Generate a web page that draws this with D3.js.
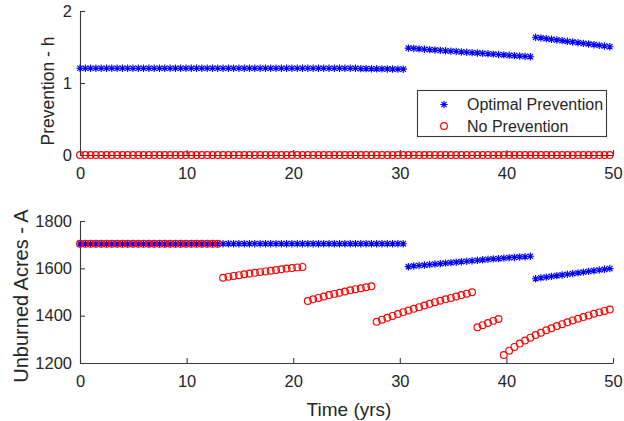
<!DOCTYPE html>
<html><head><meta charset="utf-8">
<script src="https://cdn.jsdelivr.net/npm/d3@7"></script>
<style>
body{margin:0;background:#fff}
text{font-family:"Liberation Sans",Arial,Helvetica,sans-serif;fill:#262626}
</style>
</head><body>
<svg id="c" width="624" height="421"></svg>
<script>
// time (yrs)
const time = [
 0.00,0.50,0.99,1.49,1.99,2.49,2.98,3.48,3.98,4.47,
 4.97,5.47,5.96,6.46,6.96,7.46,7.95,8.45,8.95,9.44,
 9.94,10.44,10.93,11.43,11.93,12.43,12.92,13.42,13.92,14.41,
 14.91,15.41,15.90,16.40,16.90,17.40,17.89,18.39,18.89,19.38,
 19.88,20.38,20.87,21.37,21.87,22.37,22.86,23.36,23.86,24.35,
 24.85,25.35,25.84,26.34,26.84,27.34,27.83,28.33,28.83,29.32,
 29.82,30.32,30.81,31.31,31.81,32.31,32.80,33.30,33.80,34.29,
 34.79,35.29,35.78,36.28,36.78,37.28,37.77,38.27,38.77,39.26,
 39.76,40.26,40.75,41.25,41.75,42.25,42.74,43.24,43.74,44.23,
 44.73,45.23,45.72,46.22,46.72,47.22,47.71,48.21,48.71,49.20,
 49.70];

// Prevention - h, optimal prevention
const optimalH = [
 1.205,1.205,1.205,1.205,1.205,1.205,1.205,1.205,1.205,1.205,
 1.205,1.205,1.205,1.205,1.205,1.205,1.205,1.205,1.205,1.205,
 1.205,1.205,1.205,1.205,1.205,1.205,1.205,1.205,1.205,1.205,
 1.205,1.205,1.205,1.205,1.205,1.205,1.205,1.205,1.205,1.205,
 1.205,1.205,1.205,1.205,1.205,1.205,1.205,1.205,1.205,1.205,
 1.205,1.205,1.205,
 1.200,1.199,1.198,1.197,1.196,1.195,1.194,1.193,1.192,
 1.485,1.480,1.474,1.469,1.464,1.459,1.453,1.448,1.443,1.438,
 1.432,1.427,1.422,1.417,1.411,1.406,1.401,1.396,1.390,1.385,
 1.380,1.375,1.370,1.365,
 1.635,1.626,1.616,1.607,1.598,1.588,1.579,1.570,1.560,1.551,
 1.542,1.532,1.523,1.514,1.504];

// Prevention - h, no prevention
const noPrevH = [
 0,0,0,0,0,0,0,0,0,0, 0,0,0,0,0,0,0,0,0,0,
 0,0,0,0,0,0,0,0,0,0, 0,0,0,0,0,0,0,0,0,0,
 0,0,0,0,0,0,0,0,0,0, 0,0,0,0,0,0,0,0,0,0,
 0,0,0,0,0,0,0,0,0,0, 0,0,0,0,0,0,0,0,0,0,
 0,0,0,0,0,0,0,0,0,0, 0,0,0,0,0,0,0,0,0,0,
 0];

// Unburned Acres - A, optimal prevention
const optimalA = [
 1704,1704,1704,1704,1704,1704,1704,1704,1704,1704,
 1704,1704,1704,1704,1704,1704,1704,1704,1704,1704,
 1704,1704,1704,1704,1704,1704,1704,1704,1704,1704,
 1704,1704,1704,1704,1704,1704,1704,1704,1704,1704,
 1704,1704,1704,1704,1704,1704,1704,1704,1704,1704,
 1704,1704,1704,1704,1704,1704,1704,1704,1704,1704,
 1704,1704,
 1607,1610,1612,1614,1616,1618,1620,1622,1624,1626,
 1628,1630,1632,1634,1636,1638,1640,1641,1643,1645,
 1646,1648,1649,1651,
 1556,1560,1563,1566,1569,1572,1575,1578,1581,1584,
 1587,1590,1593,1596,1599];

// Unburned Acres - A, no prevention
const noPrevA = [
 1704,1704,1704,1704,1704,1704,1704,1704,1704,1704,
 1704,1704,1704,1704,1704,1704,1704,1704,1704,1704,
 1704,1704,1704,1704,1704,1704,1704,
 1560,1564,1568,1571,1575,1578,1581,1584,1587,1590,
 1593,1596,1599,1601,1604,1606,
 1462,1469,1475,1481,1487,1492,1497,1502,1507,1512,
 1516,1520,1524,
 1374,1383,1391,1399,1407,1415,1422,1429,1436,1443,
 1450,1457,1463,1469,1475,1481,1487,1493,1499,
 1351,1360,1369,1378,1386,
 1234,1252,1268,1282,1295,1307,1318,1328,1338,1347,
 1356,1364,1372,1380,1387,1394,1401,1408,1414,1420,
 1426];

const seriesNames = ["Optimal Prevention", "No Prevention"];
const xTicks = [0,10,20,30,40,50];
const hTicks = [0,1,2];
const aTicks = [1200,1400,1600,1800];

const svg = d3.select("#c");
svg.append("rect").attr("width",624).attr("height",421).attr("fill","#fff");

const x = d3.scaleLinear().domain([0,50]).range([80,613]);
const yH = d3.scaleLinear().domain([0,2]).range([155,11]);
const yA = d3.scaleLinear().domain([1200,1800]).range([363,221]);

const axisColor = "#3a3a3a";
function styleAxis(g, fs){
  g.selectAll("path,line").attr("stroke",axisColor).attr("stroke-width",1.1);
  g.selectAll("text").attr("fill","#262626").style("font-size",fs+"px")
   .style("font-family",'"Liberation Sans",Arial,Helvetica,sans-serif');
}
function drawAxes(y, ticks, y0){
  const gx = svg.append("g").attr("transform",`translate(0,${y0})`)
    .call(d3.axisBottom(x).tickValues(xTicks).tickFormat(d3.format("d"))
      .tickSizeInner(-5).tickSizeOuter(0).tickPadding(12.5));
  styleAxis(gx,16.5);
  const gy = svg.append("g").attr("transform","translate(80,0)")
    .call(d3.axisLeft(y).tickValues(ticks).tickFormat(d3.format("d"))
      .tickSizeInner(-5).tickSizeOuter(0).tickPadding(8));
  styleAxis(gy,16.5);
}
drawAxes(yH, hTicks, 155);
drawAxes(yA, aTicks, 363);

const starPath = "M-3.7,0H3.7M0,-3.7V3.7M-2.7,-2.7L2.7,2.7M-2.7,2.7L2.7,-2.7";
function stars(vals, y){
  svg.append("g").selectAll("path").data(vals).join("path")
    .attr("transform",(d,i)=>`translate(${x(time[i])},${y(d)})`)
    .attr("d",starPath).attr("stroke","#0000ff").attr("stroke-width",1.15).attr("fill","none");
}
function circles(vals, y){
  svg.append("g").selectAll("circle").data(vals).join("circle")
    .attr("cx",(d,i)=>x(time[i])).attr("cy",d=>y(d)).attr("r",3.4)
    .attr("stroke","#ff0000").attr("stroke-width",1.15).attr("fill","none");
}
stars(optimalH, yH);
circles(noPrevH, yH);
stars(optimalA, yA);
circles(noPrevA, yA);

// axis labels
svg.append("text").attr("transform","translate(54,91) rotate(-90)")
  .attr("text-anchor","middle").style("font-size","17.5px").text("Prevention - h");
svg.append("text").attr("transform","translate(28,296) rotate(-90)")
  .attr("text-anchor","middle").style("font-size","20px").text("Unburned Acres - A");
svg.append("text").attr("x",349).attr("y",416)
  .attr("text-anchor","middle").style("font-size","19px").text("Time (yrs)");

// legend
const lg = svg.append("g");
lg.append("rect").attr("x",417.5).attr("y",90.5).attr("width",189).attr("height",46)
  .attr("fill","#fff").attr("stroke",axisColor).attr("stroke-width",1.1);
const ly = [104.5, 126];
lg.append("path").attr("transform",`translate(444,${ly[0]})`).attr("d",starPath)
  .attr("stroke","#0000ff").attr("stroke-width",1.15).attr("fill","none");
lg.append("circle").attr("cx",444).attr("cy",ly[1]).attr("r",3.4)
  .attr("stroke","#ff0000").attr("stroke-width",1.15).attr("fill","none");
seriesNames.forEach((n,i)=>{
  lg.append("text").attr("x",467).attr("y",ly[i]).attr("dy","0.36em")
    .style("font-size","16px").text(n);
});
</script>
</body></html>
